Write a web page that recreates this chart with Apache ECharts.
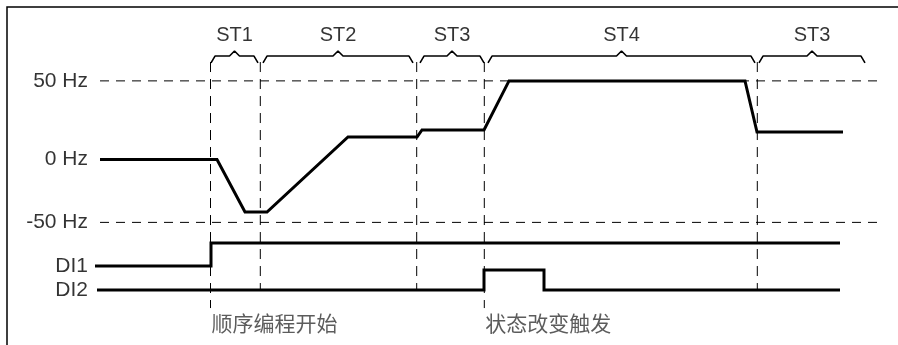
<!DOCTYPE html>
<html>
<head>
<meta charset="utf-8">
<script src="https://cdn.jsdelivr.net/npm/echarts@6/dist/echarts.min.js"></script>
<style>
  html, body { margin: 0; padding: 0; background: #fff; }
  #main { width: 898px; height: 345px; }
</style>
</head>
<body>
<div id="main"></div>
<script>
// reference levels (schematic Hz scale)
var hzLevels = [50, 0, -40];
var hzLabels = ['50 Hz', '0 Hz', '-50 Hz'];
var dashedLevels = [50, -40];

// frequency trace
var freqTime = [0, 117, 145, 167, 248, 317, 322, 384, 409, 645, 657, 743];
var freqHz = [0, 0, -33.4, -33.4, 14.3, 14.3, 18.8, 18.8, 50, 50, 17.5, 17.5];

// digital inputs
var di1Time = [-5, 111, 111, 740];
var di1Level = [-67.8, -67.8, -53.1, -53.1];
var di2Time = [-3, 384, 384, 444, 444, 740];
var di2Level = [-83, -83, -70.3, -70.3, -83, -83];
var diNames = ['DI1', 'DI2'];
var diLabelLevel = [-67.8, -83];

// event markers (vertical dashed lines)
var eventTime = [110.5, 160.3, 316.7, 384.3, 657.3];
var eventBottom = [-94.5, -82.4, -82.4, -94.5, -82.4];
var eventTop = 62;

// steps
var stepNames = ['ST1', 'ST2', 'ST3', 'ST4', 'ST3'];
var stepStart = [111, 163, 320, 388, 659];
var stepEnd = [158, 313, 384, 655, 765];
var braceBase = 65.8, braceEnd = 61.4, bracePeak = 69.0, stepLabelLevel = 78.6;

// triggers
var triggerTime = [110.5, 384.3];
var triggerText = ['顺序编程开始', '状态改变触发'];
var triggerLevel = -104;

var hzLineStart = 0, hzLineEnd = 777;

var latin = '"Liberation Sans", Arial, sans-serif';
var cjk = '"Noto Sans CJK SC", sans-serif';

function zip(xs, ys) {
  return xs.map(function (x, i) { return [x, ys[i]]; });
}

var series = [];

// horizontal dashed Hz lines
dashedLevels.forEach(function (lv) {
  series.push({
    type: 'line', silent: true, symbol: 'none', z: 1,
    data: [[hzLineStart, lv], [hzLineEnd, lv]],
    lineStyle: { color: '#000', width: 1, type: [9, 7] }
  });
});

// vertical dashed event lines
eventTime.forEach(function (t, i) {
  series.push({
    type: 'line', silent: true, symbol: 'none', z: 1,
    data: [[t, eventTop], [t, eventBottom[i]]],
    lineStyle: { color: '#000', width: 1, type: [10, 7] }
  });
});

// braces
stepNames.forEach(function (n, i) {
  var a = stepStart[i], b = stepEnd[i], c = (a + b) / 2;
  series.push({
    type: 'line', silent: true, symbol: 'none', z: 2,
    data: [[a, braceEnd], [a + 4, braceBase], [c - 5, braceBase], [c, bracePeak],
           [c + 5, braceBase], [b - 4, braceBase], [b, braceEnd]],
    lineStyle: { color: '#000', width: 1.6 }
  });
});

// step labels
series.push({
  type: 'scatter', silent: true, symbolSize: 0, z: 3,
  data: stepNames.map(function (n, i) { return { value: [(stepStart[i] + stepEnd[i]) / 2, stepLabelLevel], name: n }; }),
  label: { show: true, position: 'inside', formatter: '{b}', color: '#000', fontSize: 20, fontFamily: latin }
});

// Hz labels and DI labels
series.push({
  type: 'scatter', silent: true, symbolSize: 0, z: 3,
  data: hzLevels.map(function (lv, i) { return { value: [-12, lv], name: hzLabels[i] }; })
    .concat(diNames.map(function (n, i) { return { value: [-12, diLabelLevel[i]], name: n }; })),
  label: { show: true, position: 'left', distance: 0, formatter: '{b}', color: '#000', fontSize: 21, fontFamily: latin }
});

// trigger texts
series.push({
  type: 'scatter', silent: true, symbolSize: 0, z: 3,
  data: triggerTime.map(function (t, i) { return { value: [t, triggerLevel], name: triggerText[i] }; }),
  label: { show: true, position: 'right', distance: 1, formatter: '{b}', color: '#333', fontSize: 21, fontFamily: cjk }
});

// traces
series.push({
  type: 'line', silent: true, symbol: 'none', z: 5,
  data: zip(freqTime, freqHz),
  lineStyle: { color: '#000', width: 3, join: 'miter' }
});
series.push({
  type: 'line', silent: true, symbol: 'none', z: 5,
  data: zip(di1Time, di1Level),
  lineStyle: { color: '#000', width: 3, join: 'miter' }
});
series.push({
  type: 'line', silent: true, symbol: 'none', z: 5,
  data: zip(di2Time, di2Level),
  lineStyle: { color: '#000', width: 3, join: 'miter' }
});

var chart = echarts.init(document.getElementById('main'));
chart.setOption({
  animation: false,
  backgroundColor: '#fff',
  grid: { left: 0, right: 0, top: 7, bottom: 0 },
  xAxis: { type: 'value', min: -100, max: 798, show: false },
  yAxis: { type: 'value', min: -118, max: 97, show: false },
  graphic: [{
    type: 'polyline',
    shape: { points: [[7, 345], [7, 7], [898, 7]] },
    style: { stroke: '#000', lineWidth: 1.5, fill: null }
  }],
  series: series
});
</script>
</body>
</html>
